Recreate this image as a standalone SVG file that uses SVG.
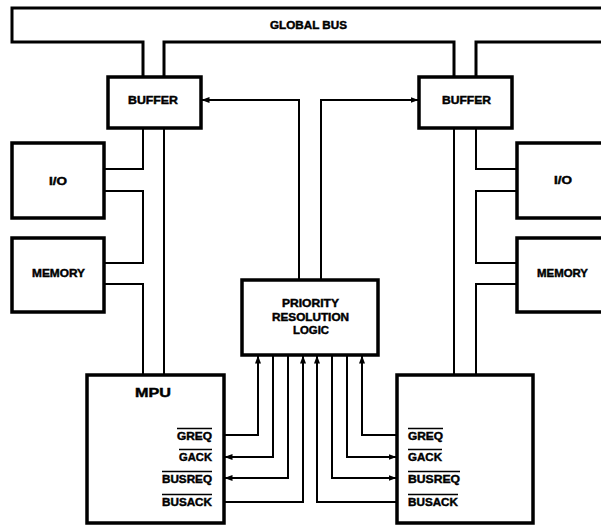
<svg xmlns="http://www.w3.org/2000/svg" width="601" height="525" viewBox="0 0 601 525">
<defs>
<marker id="ah" viewBox="0 0 8 7" refX="7.5" refY="3.5" markerWidth="8" markerHeight="7" markerUnits="userSpaceOnUse" orient="auto">
<path d="M0,0.5 L8,3.5 L0,6.5 z" fill="#000"/>
</marker>
<style>
.box{fill:#fff;stroke:#000;stroke-width:3.5}
.bus{fill:none;stroke:#000;stroke-width:3}
.ln{fill:none;stroke:#000;stroke-width:2}
.arr{fill:none;stroke:#000;stroke-width:2;marker-end:url(#ah)}
.t{font-family:"Liberation Sans",Arial,sans-serif;font-weight:bold;font-size:10px;fill:#000;stroke:#000;stroke-width:0.4}
.big{font-size:12px}
.ov{stroke:#000;stroke-width:1.3}
</style>
</defs>
<rect width="601" height="525" fill="#fff"/>
<g id="global-bus">
<path class="bus" d="M143,77 V42 H12 V8 H610 M610,42 H476 V77 M454,77 V42 H164 V77"/>
<text class="t" x="270" y="29" textLength="77" lengthAdjust="spacingAndGlyphs">GLOBAL BUS</text>
</g>
<g id="connectors">
<path class="ln" d="M143,128 V169 H104 M104,191 H143 V263 H104 M104,284 H143 V375 M164,128 V375"/>
<path class="ln" d="M476,128 V169 H517 M517,191 H476 V263 H517 M517,284 H476 V375 M454,128 V375"/>
<path class="arr" d="M299,280 V100 H202"/>
<path class="arr" d="M321,280 V100 H418"/>
<path class="arr" d="M224,435 H258 V356"/>
<path class="arr" d="M273,355 V457 H225"/>
<path class="arr" d="M288,355 V478 H225"/>
<path class="arr" d="M224,502 H303 V356"/>
<path class="arr" d="M397,502 H317 V356"/>
<path class="arr" d="M332,355 V478 H396"/>
<path class="arr" d="M347,355 V457 H396"/>
<path class="arr" d="M397,435 H362 V356"/>
</g>
<g id="buffer-left">
<rect class="box" x="108" y="77" width="93" height="51"/>
<text class="t" x="128" y="104" textLength="50" lengthAdjust="spacingAndGlyphs">BUFFER</text>
</g>
<g id="buffer-right">
<rect class="box" x="419" y="77" width="93" height="51"/>
<text class="t" x="442" y="104" textLength="49" lengthAdjust="spacingAndGlyphs">BUFFER</text>
</g>
<g id="io-left">
<rect class="box" x="12" y="143" width="92" height="75"/>
<text class="t" x="49" y="185" textLength="18" lengthAdjust="spacingAndGlyphs">I/O</text>
</g>
<g id="memory-left">
<rect class="box" x="12" y="238" width="92" height="74"/>
<text class="t" x="32" y="277" textLength="53" lengthAdjust="spacingAndGlyphs">MEMORY</text>
</g>
<g id="io-right">
<rect class="box" x="517" y="143" width="95" height="75"/>
<text class="t" x="554" y="184" textLength="18" lengthAdjust="spacingAndGlyphs">I/O</text>
</g>
<g id="memory-right">
<rect class="box" x="517" y="238" width="95" height="74"/>
<text class="t" x="537" y="277" textLength="51" lengthAdjust="spacingAndGlyphs">MEMORY</text>
</g>
<g id="priority-logic">
<rect class="box" x="242" y="280" width="136" height="75"/>
<text class="t" x="282" y="307" textLength="57" lengthAdjust="spacingAndGlyphs">PRIORITY</text>
<text class="t" x="272" y="321" textLength="77" lengthAdjust="spacingAndGlyphs">RESOLUTION</text>
<text class="t" x="293" y="333.5" textLength="36" lengthAdjust="spacingAndGlyphs">LOGIC</text>
</g>
<g id="mpu-left">
<rect class="box" x="87" y="375" width="137" height="148"/>
<text class="t big" x="135" y="397" textLength="36" lengthAdjust="spacingAndGlyphs">MPU</text>
<text class="t" x="177" y="439.5" textLength="35" lengthAdjust="spacingAndGlyphs">GREQ</text>
<line class="ov" x1="177" y1="428.5" x2="212" y2="428.5"/>
<text class="t" x="179" y="460.5" textLength="33" lengthAdjust="spacingAndGlyphs">GACK</text>
<line class="ov" x1="179" y1="449.5" x2="212" y2="449.5"/>
<text class="t" x="162" y="482.5" textLength="50" lengthAdjust="spacingAndGlyphs">BUSREQ</text>
<line class="ov" x1="162" y1="471.5" x2="212" y2="471.5"/>
<text class="t" x="162" y="506" textLength="50" lengthAdjust="spacingAndGlyphs">BUSACK</text>
<line class="ov" x1="162" y1="494.5" x2="212" y2="494.5"/>
</g>
<g id="mpu-right">
<rect class="box" x="397" y="375" width="136" height="148"/>
<text class="t" x="408" y="439.5" textLength="35" lengthAdjust="spacingAndGlyphs">GREQ</text>
<line class="ov" x1="408" y1="428.5" x2="443" y2="428.5"/>
<text class="t" x="408" y="460.5" textLength="34" lengthAdjust="spacingAndGlyphs">GACK</text>
<line class="ov" x1="408" y1="449.5" x2="442" y2="449.5"/>
<text class="t" x="408" y="482.5" textLength="52" lengthAdjust="spacingAndGlyphs">BUSREQ</text>
<line class="ov" x1="408" y1="471.5" x2="460" y2="471.5"/>
<text class="t" x="408" y="506" textLength="50" lengthAdjust="spacingAndGlyphs">BUSACK</text>
<line class="ov" x1="408" y1="494.5" x2="458" y2="494.5"/>
</g>
</svg>
